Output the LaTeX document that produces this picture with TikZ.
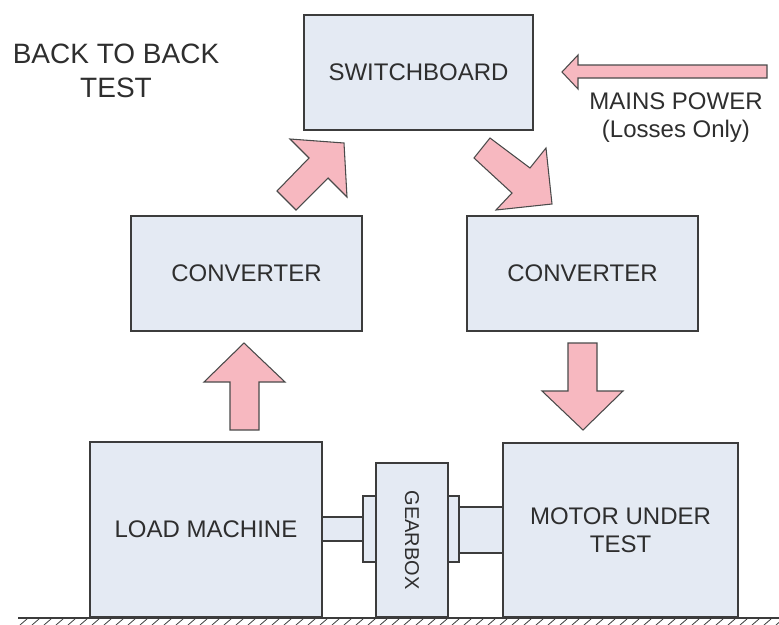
\documentclass[tikz,border=0pt]{standalone}
\usepackage{fontspec}
\setmainfont{Liberation Sans}
\definecolor{boxfill}{HTML}{E4EAF3}
\definecolor{boxline}{HTML}{3C3C3C}
\definecolor{arrfill}{HTML}{F7B8C0}
\definecolor{arrline}{HTML}{4A4A4A}
\definecolor{txt}{HTML}{2E2E2E}
\begin{document}
\begin{tikzpicture}[x=0.75pt,y=-0.75pt,
  box/.style={draw=boxline,fill=boxfill,line width=1.1pt,inner sep=0pt,text=txt,font=\fontsize{18pt}{21pt}\selectfont,align=center},
  part/.style={draw=boxline,fill=boxfill,line width=1.1pt},
  blockarrow/.style={draw=arrline,fill=arrfill,line width=0.8pt,line join=miter},
  lbl/.style={inner sep=0pt,text=txt,align=center}]
\useasboundingbox (0,0) rectangle (779,625);
% shafts and flanges
\draw[part] (322,517) rectangle (363,541);
\draw[part] (363,496) rectangle (376,562);
\draw[part] (448,496) rectangle (459,562);
\draw[part] (459,507) rectangle (503,553);
% boxes
\node[box,minimum width=171.75pt,minimum height=86.25pt] (sw) at (418.5,72.5) {SWITCHBOARD};
\node[box,minimum width=173.25pt,minimum height=86.25pt] (conL) at (246.5,273.5) {CONVERTER};
\node[box,minimum width=173.25pt,minimum height=86.25pt] (conR) at (582.5,273.5) {CONVERTER};
\node[box,minimum width=174pt,minimum height=131.25pt] (load) at (206,529.5) {LOAD MACHINE};
\node[box,minimum width=176.25pt,minimum height=130.5pt] (mot) at (620.5,530) {MOTOR UNDER\\TEST};
\node[box,rotate=-90,minimum width=115.5pt,minimum height=54pt,font=\fontsize{15pt}{18pt}\selectfont] (gear) at (412,540) {GEARBOX};
% block arrows
\draw[blockarrow] (244,343) -- (285,382) -- (259,382) -- (259,430) -- (230,430) -- (230,382) -- (204,382) -- cycle;
\draw[blockarrow] (583,430) -- (623,391) -- (597,391) -- (597,343) -- (568,343) -- (568,391) -- (542,391) -- cycle;
\draw[blockarrow] (344,143) -- (290,139) -- (309,158) -- (277,191) -- (296,210) -- (328,178) -- (347,197) -- cycle;
\draw[blockarrow] (552,204) -- (546,148) -- (530,168) -- (490,138) -- (474,158) -- (512,193) -- (496,210) -- cycle;
\draw[blockarrow] (562,72) -- (578,55) -- (578,65) -- (767,65) -- (767,78) -- (578,78) -- (578,89) -- cycle;
% labels
\node[lbl,font=\fontsize{21pt}{25.5pt}\selectfont] (title) at (116,71) {BACK TO BACK\\TEST};
\node[lbl,font=\fontsize{18pt}{21pt}\selectfont] (mains) at (676,118) {MAINS POWER\\(Losses Only)};
% ground
\draw[boxline,line width=1.5pt] (18,617.5) -- (779,617.5);
\foreach \gx in {20,32,...,780} \draw[boxline,line width=0.6pt] (\gx,625) -- (\gx+7,619);
\end{tikzpicture}
\end{document}
